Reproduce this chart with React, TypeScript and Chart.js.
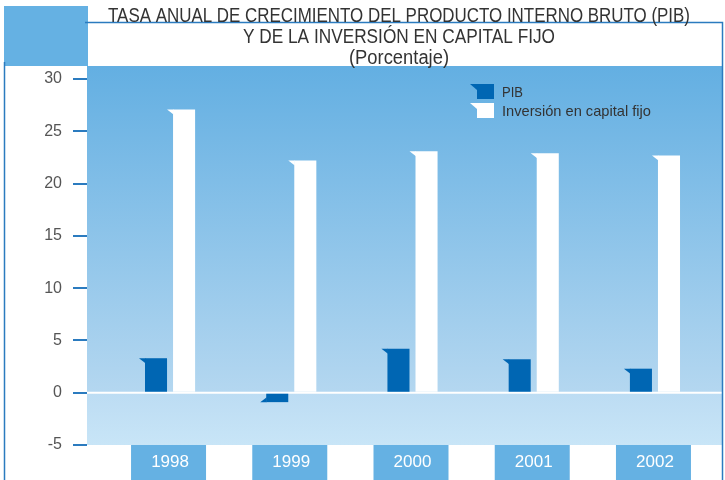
import React, { useEffect, useRef } from 'react';
import { Chart, registerables } from 'chart.js';

Chart.register(...registerables);

const years = ['1998', '1999', '2000', '2001', '2002'];
const pib = [3.3, -0.9, 4.2, 3.2, 2.3];
const inversion = [27.1, 22.2, 23.1, 22.9, 22.7];
const yTicks = [-5, 0, 5, 10, 15, 20, 25, 30];
const seriesNames = ['PIB', 'Inversión en capital fijo'];
const titleLines = [
  'TASA ANUAL DE CRECIMIENTO DEL PRODUCTO INTERNO BRUTO (PIB)',
  'Y DE LA INVERSIÓN EN CAPITAL FIJO',
  '(Porcentaje)',
];
const titleWidths = [582, 312, 100];
const legendWidths = [21, 149];

const FONT = '"Liberation Sans", Arial, sans-serif';
const BLUE = '#65b1e3';
const LINE = '#2b7bbf';
const PIB_COLOR = '#0066b3';
const INV_COLOR = '#ffffff';

const decoPlugin = {
  id: 'deco',
  beforeDraw(chart: any) {
    const { ctx, chartArea: a, scales } = chart;
    const y0 = scales.y.getPixelForValue(0);
    ctx.save();
    ctx.fillStyle = '#ffffff';
    ctx.fillRect(0, 0, chart.width, chart.height);
    ctx.fillStyle = BLUE;
    ctx.fillRect(4, 6, a.left + 1 - 4, a.top - 6);
    let g = ctx.createLinearGradient(0, a.top, 0, y0);
    g.addColorStop(0, '#63afe2');
    g.addColorStop(1, '#b4d7f0');
    ctx.fillStyle = g;
    ctx.fillRect(a.left, a.top, a.right - a.left, y0 - a.top);
    g = ctx.createLinearGradient(0, y0, 0, a.bottom);
    g.addColorStop(0, '#bcdcf3');
    g.addColorStop(1, '#c8e5f7');
    ctx.fillStyle = g;
    ctx.fillRect(a.left, y0, a.right - a.left, a.bottom - y0);
    ctx.strokeStyle = '#ffffff';
    ctx.lineWidth = 2;
    ctx.beginPath();
    ctx.moveTo(a.left, y0);
    ctx.lineTo(a.right, y0);
    ctx.stroke();
    ctx.strokeStyle = LINE;
    ctx.lineWidth = 1.5;
    ctx.beginPath();
    ctx.moveTo(a.left - 2, 22.5);
    ctx.lineTo(a.right + 0.5, 22.5);
    ctx.lineTo(a.right + 0.5, chart.height);
    ctx.moveTo(4.5, a.top - 4);
    ctx.lineTo(4.5, chart.height);
    ctx.stroke();
    ctx.fillStyle = BLUE;
    scales.x.ticks.forEach((t: any) => {
      const px = scales.x.getPixelForValue(t.value) - 1.5;
      ctx.fillRect(px - 37.5, a.bottom, 75, chart.height - a.bottom);
    });
    ctx.restore();
  },
  afterDatasetsDraw(chart: any) {
    const { ctx } = chart;
    ctx.save();
    chart.data.datasets.forEach((ds: any, di: number) => {
      const meta = chart.getDatasetMeta(di);
      meta.data.forEach((el: any) => {
        const p = el.getProps(['x', 'y', 'base', 'width'], true);
        const left = p.x - p.width / 2;
        const neg = p.y > p.base;
        ctx.fillStyle = ds.backgroundColor;
        ctx.beginPath();
        ctx.moveTo(left + 0.5, p.y);
        ctx.lineTo(left - 6, p.y);
        ctx.lineTo(left + 0.5, p.y + (neg ? -5 : 5));
        ctx.closePath();
        ctx.fill();
      });
    });
    ctx.restore();
  },
  afterDraw(chart: any) {
    const { ctx } = chart;
    ctx.save();
    // title
    ctx.fillStyle = '#333333';
    ctx.font = `20px ${FONT}`;
    ctx.textAlign = 'center';
    ctx.textBaseline = 'alphabetic';
    const cx = 399;
    titleLines.forEach((t, i) => ctx.fillText(t, cx, 22 + i * 21, titleWidths[i]));
    // legend
    const lx = 470;
    const rows = [84, 103];
    chart.data.datasets.forEach((ds: any, i: number) => {
      const y = rows[i];
      ctx.fillStyle = ds.backgroundColor;
      ctx.beginPath();
      ctx.moveTo(lx, y);
      ctx.lineTo(lx + 7, y);
      ctx.lineTo(lx + 7, y + 6);
      ctx.closePath();
      ctx.fill();
      ctx.fillRect(lx + 7, y, 17, 15);
      ctx.fillStyle = '#333333';
      ctx.font = `15px ${FONT}`;
      ctx.textAlign = 'left';
      ctx.textBaseline = 'middle';
      ctx.fillText(ds.label, lx + 32, y + 8.5, legendWidths[i]);
    });
    ctx.restore();
  },
};

export default function App() {
  const ref = useRef<HTMLCanvasElement>(null);
  useEffect(() => {
    if (!ref.current) return;
    const chart = new Chart(ref.current, {
      type: 'bar',
      data: {
        datasets: [
          {
            label: seriesNames[0],
            data: pib.map((v, i) => ({ x: i, y: v })),
            backgroundColor: PIB_COLOR,
            borderWidth: 0,
          },
          {
            label: seriesNames[1],
            data: inversion.map((v, i) => ({ x: i, y: v })),
            backgroundColor: INV_COLOR,
            borderWidth: 0,
          },
        ],
      },
      options: {
        animation: false,
        responsive: false,
        events: [],
        categoryPercentage: 0.463,
        barPercentage: 0.786,
        layout: { padding: { top: 66, right: 3, left: 0, bottom: 0 } },
        plugins: {
          legend: { display: false },
          title: { display: false },
          tooltip: { enabled: false },
        },
        scales: {
          x: {
            type: 'linear',
            offset: false,
            min: -0.685,
            max: 4.553,
            afterBuildTicks: (s: any) => {
              s.ticks = years.map((_, i) => ({ value: i }));
            },
            afterFit: (s: any) => {
              s.height = 35;
            },
            grid: { display: false, drawTicks: false, offset: false },
            border: { display: false },
            ticks: {
              color: '#ffffff',
              font: { family: FONT, size: 17 },
              padding: 7,
              maxRotation: 0,
              callback: (v: any) => years[v] ?? '',
            },
          },
          y: {
            min: -5,
            max: 31.25,
            afterBuildTicks: (s: any) => {
              s.ticks = yTicks.map((v) => ({ value: v }));
            },
            afterFit: (s: any) => {
              s.width = 87;
            },
            grid: {
              drawOnChartArea: false,
              drawTicks: true,
              tickLength: 14,
              color: LINE,
              lineWidth: 2,
            },
            border: { display: false },
            ticks: {
              color: '#555555',
              font: { family: FONT, size: 16 },
              padding: 11,
            },
          },
        },
      },
      plugins: [decoPlugin],
    } as any);
    return () => chart.destroy();
  }, []);
  return (
    <div style={{ position: 'absolute', left: 0, top: 0, width: 725, height: 480 }}>
      <canvas ref={ref} width={725} height={480} style={{ display: 'block' }} />
    </div>
  );
}
